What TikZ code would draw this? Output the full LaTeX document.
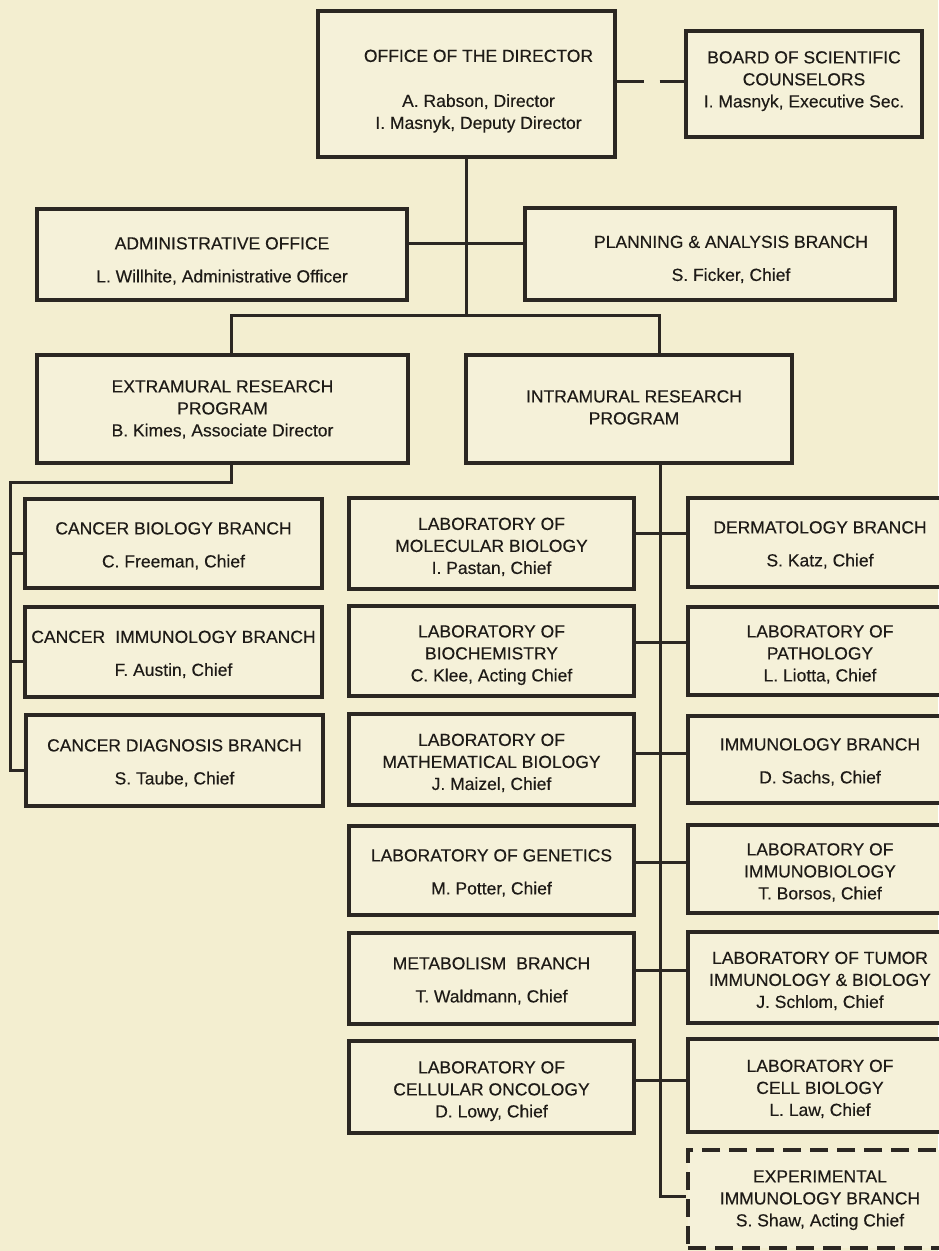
\documentclass[tikz,border=0pt]{standalone}
\usepackage{fontspec}
\setmainfont{Liberation Sans}
\newfontfamily\chartfont{Liberation Sans}[FakeBold=0.35]
\definecolor{bg}{HTML}{F3EED0}
\definecolor{boxfill}{HTML}{F5F1D9}
\definecolor{ink}{HTML}{2B2722}
\definecolor{txt}{HTML}{1E1B17}
\newcommand{\fs}{\chartfont\fontsize{17.5}{22}\selectfont}
% #1 = shift down, #2 = shift right (doubled), #3 = text
\newcommand{\T}[3][3pt]{\hspace*{#2}\raisebox{-#1}[\height][\depth]{\begin{tabular}{@{}c@{}}#3\end{tabular}}}
\begin{document}
\begin{tikzpicture}[x=1pt,y=-1pt,
  box/.style={draw=ink, line width=3.1pt, fill=boxfill, inner sep=0pt, text=txt, font=\fs},
  dbox/.style={box, dash pattern=on 18pt off 9pt},
  conn/.style={draw=ink, line width=3pt, line join=miter},
  dconn/.style={conn, dash pattern=on 27pt off 16pt},
  lab/.style={box, minimum width=285pt},
  rlab/.style={box, minimum width=264pt},
  cbr/.style={box, minimum width=297pt}
]
\fill[bg] (0,0) rectangle (938,1251);
\useasboundingbox (0,0) rectangle (938,1251);

% top level
\node[box, minimum width=297pt, minimum height=146pt] (dir) at (466.5,84)
  {\T[7pt]{24pt}{OFFICE OF THE DIRECTOR\\[23pt]A. Rabson, Director\\I. Masnyk, Deputy Director}};
\node[box, minimum width=236pt, minimum height=106pt] (board) at (804,84)
  {\T[-3pt]{0pt}{BOARD OF SCIENTIFIC\\COUNSELORS\\I. Masnyk, Executive Sec.}};
\node[box, minimum width=370pt, minimum height=91pt] (admin) at (222,254.5)
  {\T[7pt]{0pt}{ADMINISTRATIVE OFFICE\\[11pt]L. Willhite, Administrative Officer}};
\node[box, minimum width=370pt, minimum height=92pt] (plan) at (710,254)
  {\T[6pt]{42pt}{PLANNING \& ANALYSIS BRANCH\\[11pt]S. Ficker, Chief}};
\node[box, minimum width=371pt, minimum height=108pt] (extra) at (222.5,409)
  {\T[1pt]{0pt}{EXTRAMURAL RESEARCH\\PROGRAM\\B. Kimes, Associate Director}};
\node[box, minimum width=326pt, minimum height=108pt] (intra) at (629,409)
  {\T[0pt]{10pt}{INTRAMURAL RESEARCH\\PROGRAM}};

% extramural branches
\node[cbr, minimum height=89pt] (cb) at (173.5,543.5) {\T{0pt}{CANCER BIOLOGY BRANCH\\[11pt]C. Freeman, Chief}};
\node[cbr, minimum height=90pt] (ci) at (173.5,652) {\T{0pt}{CANCER\hspace{0.3em} IMMUNOLOGY BRANCH\\[11pt]F. Austin, Chief}};
\node[cbr, minimum height=91pt] (cd) at (174.5,760.5) {\T{0pt}{CANCER DIAGNOSIS BRANCH\\[11pt]S. Taube, Chief}};

% intramural left column
\node[lab, minimum height=91pt] (l1) at (491.5,543.5) {\T[4pt]{0pt}{LABORATORY OF\\MOLECULAR BIOLOGY\\I. Pastan, Chief}};
\node[lab, minimum height=90pt] (l2) at (491.5,651) {\T[4pt]{0pt}{LABORATORY OF\\BIOCHEMISTRY\\C. Klee, Acting Chief}};
\node[lab, minimum height=91pt] (l3) at (491.5,759.5) {\T[4pt]{0pt}{LABORATORY OF\\MATHEMATICAL BIOLOGY\\J. Maizel, Chief}};
\node[lab, minimum height=89pt] (l4) at (491.5,870.5) {\T{0pt}{LABORATORY OF GENETICS\\[11pt]M. Potter, Chief}};
\node[lab, minimum height=91pt] (l5) at (491.5,978.5) {\T{0pt}{METABOLISM\hspace{0.3em} BRANCH\\[11pt]T. Waldmann, Chief}};
\node[lab, minimum height=92pt] (l6) at (491.5,1087) {\T[4pt]{0pt}{LABORATORY OF\\CELLULAR ONCOLOGY\\D. Lowy, Chief}};

% intramural right column
\node[rlab, minimum height=89pt] (r1) at (820,542.5) {\T{0pt}{DERMATOLOGY BRANCH\\[11pt]S. Katz, Chief}};
\node[rlab, minimum height=88pt] (r2) at (820,651) {\T[4pt]{0pt}{LABORATORY OF\\PATHOLOGY\\L. Liotta, Chief}};
\node[rlab, minimum height=87pt] (r3) at (820,759.5) {\T{0pt}{IMMUNOLOGY BRANCH\\[11pt]D. Sachs, Chief}};
\node[rlab, minimum height=88pt] (r4) at (820,869) {\T[4pt]{0pt}{LABORATORY OF\\IMMUNOBIOLOGY\\T. Borsos, Chief}};
\node[rlab, minimum height=91pt] (r5) at (820,977.5) {\T[4pt]{0pt}{LABORATORY OF TUMOR\\IMMUNOLOGY \& BIOLOGY\\J. Schlom, Chief}};
\node[rlab, minimum height=93pt] (r6) at (820,1085.5) {\T[4pt]{0pt}{LABORATORY OF\\CELL BIOLOGY\\L. Law, Chief}};
\node[dbox, minimum width=264pt, minimum height=98pt] (r7) at (820,1199) {\T[1pt]{0pt}{EXPERIMENTAL\\IMMUNOLOGY BRANCH\\S. Shaw, Acting Chief}};

% junction coordinates
\coordinate (bd) at (650,81);
\coordinate (ap) at (468,243);
\coordinate (barL) at (231,315);
\coordinate (barR) at (659,315);
\coordinate (ek) at (231,482);
\coordinate (lt) at (10,482);
\coordinate (cbj) at (10,553);
\coordinate (cij) at (10,661);
\coordinate (cdj) at (10,770);
\coordinate (it) at (660,463);
\coordinate (j1) at (660,533);
\coordinate (j2) at (660,642);
\coordinate (j3) at (660,753);
\coordinate (j4) at (660,862);
\coordinate (j5) at (660,970);
\coordinate (j6) at (660,1080);
\coordinate (j7) at (660,1196);

% connectors (top)
\draw[dconn] (dir.east |- bd) -- (board.west |- bd);
\draw[conn] (dir.south) -- (dir.south |- barL);
\draw[conn] (admin.east |- ap) -- (plan.west |- ap);
\draw[conn] (extra.north -| barL) |- (barR) -- (intra.north -| barR);

% extramural tree
\draw[conn] (extra.south -| ek) -- (ek) -- (lt) -- (cdj) -- (cd.west |- cdj);
\draw[conn] (cbj) -- (cb.west |- cbj);
\draw[conn] (cij) -- (ci.west |- cij);

% intramural tree
\draw[conn] (intra.south -| it) -- (j7) -- (r7.west |- j7);
\draw[conn] (l1.east |- j1) -- (r1.west |- j1);
\draw[conn] (l2.east |- j2) -- (r2.west |- j2);
\draw[conn] (l3.east |- j3) -- (r3.west |- j3);
\draw[conn] (l4.east |- j4) -- (r4.west |- j4);
\draw[conn] (l5.east |- j5) -- (r5.west |- j5);
\draw[conn] (l6.east |- j6) -- (r6.west |- j6);
\end{tikzpicture}
\end{document}
